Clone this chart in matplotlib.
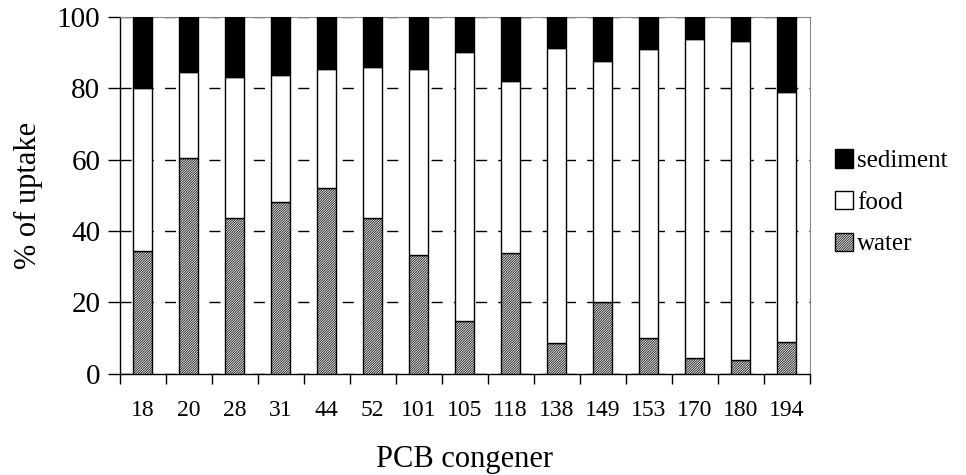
import numpy as np
import matplotlib
matplotlib.use("Agg")
import matplotlib.pyplot as plt

# PCB congeners and % of uptake by source
congeners = ["18", "20", "28", "31", "44", "52", "101", "105", "118",
             "138", "149", "153", "170", "180", "194"]
water = [34.5, 60.5, 43.7, 48.2, 52.1, 43.7, 33.3, 14.9, 33.8,
         8.5, 20.1, 10.1, 4.5, 4.0, 9.0]
water_food = [80.0, 84.4, 83.2, 83.6, 85.3, 85.9, 85.3, 90.0, 82.1,
              91.3, 87.7, 90.8, 93.7, 93.2, 78.8]

water = np.array(water)
food = np.array(water_food) - water
sediment = 100 - np.array(water_food)

plt.rcParams['font.family'] = ['Liberation Serif', 'DejaVu Serif']
plt.rcParams['hatch.linewidth'] = 0.5
plt.rcParams['hatch.color'] = '#3a3a3a'

fig = plt.figure(figsize=(9.66, 4.75), dpi=100)
ax = fig.add_axes([0.124, 0.213, 0.714, 0.752])

x = np.arange(len(congeners))
w = 0.41
ax.bar(x, water, w, color='#e8e8e8', edgecolor='black', hatch='/' * 14,
       linewidth=1, label='water', zorder=3)
ax.bar(x, food, w, bottom=water, color='white', edgecolor='black',
       linewidth=1, label='food', zorder=3)
ax.bar(x, sediment, w, bottom=water + food, color='black', edgecolor='black',
       linewidth=1, label='sediment', zorder=3)

ax.set_xlim(-0.5, len(congeners) - 0.5)
ax.set_ylim(0, 100)
ax.set_yticks([0, 20, 40, 60, 80, 100])
ax.yaxis.grid(True, linestyle=(0, (8, 8)), color='black', linewidth=1)
ax.set_axisbelow(True)

# category labels centred, tick marks between categories
ax.set_xticks(x)
ax.set_xticklabels(congeners, fontsize=17)
ax.tick_params(axis='x', length=0, pad=19)
ax.set_xticks(np.arange(len(congeners) + 1) - 0.5, minor=True)
ax.tick_params(axis='x', which='minor', length=7, width=1, direction='out')
ax.tick_params(axis='y', labelsize=21, length=9, width=1, direction='out', pad=5)

for s in ['top', 'right']:
    ax.spines[s].set_color('#888888')
ax.spines['left'].set_linewidth(1)
ax.spines['bottom'].set_linewidth(1)

ax.set_ylabel('% of uptake', fontsize=22, labelpad=10)
ax.set_xlabel('PCB congener', fontsize=22, labelpad=17)

handles, labels = ax.get_legend_handles_labels()
ax.legend(handles[::-1], labels[::-1], loc='center left', bbox_to_anchor=(1.0, 0.48),
          frameon=False, fontsize=18, handlelength=0.75, handleheight=0.75,
          handletextpad=0.15, labelspacing=0.75, borderaxespad=0.6)

fig.savefig('out.png', dpi=100)
